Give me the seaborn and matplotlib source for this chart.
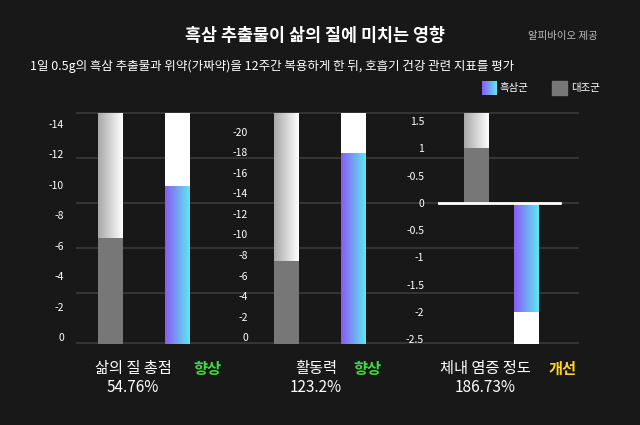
import numpy as np
import pandas as pd
import matplotlib.pyplot as plt
import seaborn as sns
from matplotlib.colors import LinearSegmentedColormap

plt.rcParams['font.family'] = ['Noto Sans CJK KR', 'Noto Sans CJK JP', 'Noto Sans CJK SC', 'DejaVu Sans']

# data
groups = ['대조군', '흑삼군']
quality_vals = [6.5, 9.9]
activity_vals = [7.45, 17.9]
inflam_vals = [1.0, -2.0]
quality_ticks = [0, 2, 4, 6, 8, 10, 12, 14]
quality_labels = ['0', '-2', '-4', '-6', '-8', '-10', '-12', '-14']
activity_ticks = [0, 2, 4, 6, 8, 10, 12, 14, 16, 18, 20]
activity_labels = ['0', '-2', '-4', '-6', '-8', '-10', '-12', '-14', '-16', '-18', '-20']
inflam_ticks = [-2.5, -2, -1.5, -1, -0.5, 0, 0.5, 1, 1.5]
inflam_labels = ['-2.5', '-2', '-1.5', '-1', '-0.5', '0', '-0.5', '1', '1.5']
bottom_labels = ['삶의 질 총점', '활동력', '체내 염증 정도']
bottom_tags = ['향상', '향상', '개선']
bottom_pcts = ['54.76%', '123.2%', '186.73%']

BG = '#181818'
fig = plt.figure(figsize=(6.4, 4.25), dpi=100, facecolor=BG)

# background gridlines in pixel coords
bg = fig.add_axes([0, 0, 1, 1])
bg.set_xlim(0, 640); bg.set_ylim(425, 0); bg.axis('off')
for y in [113, 158, 203, 248, 293, 343]:
    bg.plot([77, 578], [y, y], color='#3a3a3a', lw=1.2)

grad = np.linspace(0, 1, 64).reshape(1, -1)
gcmap = LinearSegmentedColormap.from_list('g', ['#8a5cf6', '#5ee7f0'])
bgcmap = LinearSegmentedColormap.from_list('w', ['#a8a8a8', '#ffffff'])


def panel(rect, vals, ylim, xlim, width, ticks, labels, neg=False):
    ax = fig.add_axes(rect)
    ax.set_facecolor('none')
    df = pd.DataFrame({'g': groups, 'v': vals})
    lo, top = ylim
    for i in range(2):
        if neg:
            b0, b1 = (0, top) if i == 0 else (lo, 0)
        else:
            b0, b1 = lo, top
        if i == 0:
            ax.imshow(grad, cmap=bgcmap, aspect='auto', zorder=1,
                      extent=(i - width / 2, i + width / 2, b0, b1))
        else:
            ax.bar(i, b1 - b0, bottom=b0, width=width, color='white', zorder=1)
    sns.barplot(data=df, x='g', y='v', ax=ax, width=width,
                palette=['#777777', '#8a5cf6'], hue='g', legend=False, zorder=2)
    bars = [p for p in ax.patches if p.get_zorder() == 2]
    if not neg:
        for p, v in zip(bars, vals):
            p.set_y(lo); p.set_height(v - lo)
    p = bars[-1]
    y0, y1 = (lo, vals[1]) if not neg else (vals[1], 0)
    im = ax.imshow(grad, cmap=gcmap, aspect='auto', zorder=3,
                   extent=(1 - width / 2, 1 + width / 2, y0, y1))
    im.set_clip_path(p)
    ax.set_xlim(*xlim); ax.set_ylim(*ylim)
    ax.set_yticks(ticks)
    ax.set_yticklabels(labels)
    ax.tick_params(axis='y', colors='white', labelsize=7.5, length=0, pad=10)
    ax.set_xticks([]); ax.set_xlabel(''); ax.set_ylabel('')
    for s in ax.spines.values():
        s.set_visible(False)
    return ax


yb, yh = (425 - 344) / 425, (344 - 113) / 425
panel([78 / 640, yb, 150 / 640, yh], quality_vals, (-0.46, 14.7), (-0.478, 1.76), 0.373,
      quality_ticks, quality_labels)
panel([262 / 640, yb, 140 / 640, yh], activity_vals, (-0.66, 21.8), (-0.373, 1.72), 0.373,
      activity_ticks, activity_labels)
ax3 = panel([438 / 640, yb, 130 / 640, yh], inflam_vals, (-2.59, 1.65), (-0.76, 1.84), 0.5,
            inflam_ticks, inflam_labels, neg=True)
ax3.plot([-0.76, 1.68], [0, 0], color='white', lw=2, zorder=5)

# texts
fig.text(315 / 640, 1 - 36 / 425, '흑삼 추출물이 삶의 질에 미치는 영향', color='white',
         fontsize=12.5, fontweight='bold', ha='center', va='center')
fig.text(598 / 640, 1 - 36 / 425, '알피바이오 제공', color='#bbbbbb', fontsize=7.5, ha='right', va='center')
fig.text(30 / 640, 1 - 66 / 425, '1일 0.5g의 흑삼 추출물과 위약(가짜약)을 12주간 복용하게 한 뒤, 호흡기 건강 관련 지표를 평가',
         color='white', fontsize=9, ha='left', va='center')
bg.imshow(grad, cmap=gcmap, aspect='auto', extent=(482, 497, 95, 81))
bg.text(500, 88, '흑삼군', color='white', fontsize=7.5, va='center')
bg.add_patch(plt.Rectangle((552, 81), 15, 14, color='#777777'))
bg.text(571, 88, '대조군', color='white', fontsize=7.5, va='center')
bg.set_xlim(0, 640); bg.set_ylim(425, 0)

lab_x = [95, 295, 440]
tag_x = [193, 353, 549]
pct_x = [107, 290, 455]
tag_c = ['#3ddc3d', '#3ddc3d', '#ffd21f']
for i in range(3):
    bg.text(lab_x[i], 369, bottom_labels[i], color='white', fontsize=11, va='center')
    bg.text(tag_x[i], 369, bottom_tags[i], color=tag_c[i], fontsize=11, fontweight='bold', va='center')
    bg.text(pct_x[i], 388, bottom_pcts[i], color='white', fontsize=11, va='center')

fig.savefig('out.png', dpi=100, facecolor=BG)
